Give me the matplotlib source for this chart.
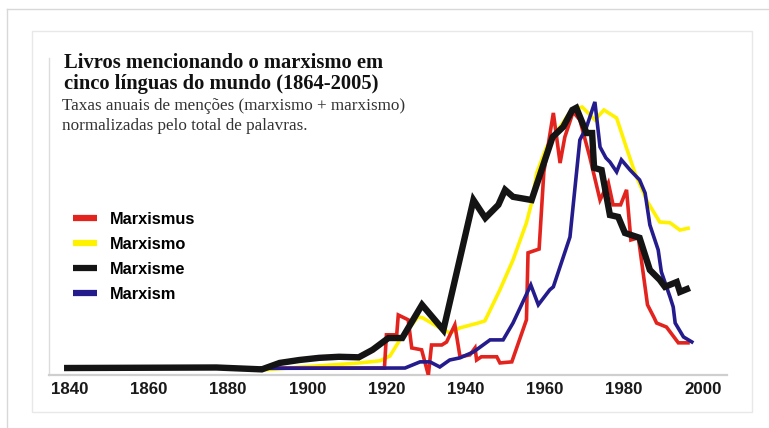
import matplotlib
matplotlib.use("Agg")
import matplotlib.pyplot as plt
from matplotlib.lines import Line2D
from matplotlib.patches import Rectangle

# ---- data (index; 100 = highest peak) ----
series_names = ["Marxismus", "Marxismo", "Marxisme", "Marxism"]

marxismus_years = [1888, 1919.5, 1920, 1922.6, 1923, 1925.5, 1926.4, 1928.9, 1930.6, 1931.4,
                   1934, 1935.2, 1937.3, 1938.6, 1941.1, 1942.4, 1942.8, 1944, 1947.9, 1948.7,
                   1951.7, 1955.4, 1955.8, 1958.6, 1959.8, 1962.2, 1963.9, 1965.1, 1967.2, 1968.9,
                   1971.4, 1974, 1976.1, 1977.3, 1979.2, 1980.7, 1981.8, 1983.7, 1986, 1987.7,
                   1988.3, 1990.8, 1993.8, 1996.7]
marxismus_vals = [0.7, 0.7, 13.1, 13.1, 20.5, 18.7, 8.2, 7.5, -1.9, 9.3,
                  9.3, 10.4, 16.8, 4.9, 5.6, 8.2, 3.7, 4.9, 4.9, 2.6,
                  3.0, 18.7, 43.7, 45.1, 73.9, 95.9, 77.2, 86.9, 96.3, 93.3,
                  79.5, 63.4, 69.8, 61.6, 61.6, 67.2, 48.5, 49.3, 24.3, 19.4,
                  17.5, 16.0, 10.1, 10.1]

marxismo_years = [1889, 1899.8, 1912.5, 1918.4, 1920.9, 1923.4, 1928, 1929.2, 1933.5, 1936,
                  1938.6, 1943.2, 1944.9, 1948.7, 1952, 1955.4, 1956.7, 1958, 1960.5, 1963.9,
                  1967, 1969.5, 1972.7, 1975, 1978.2, 1980.7, 1983, 1986, 1989.1, 1991.7,
                  1994.2, 1996.7]
marxismo_vals = [0.0, 1.2, 2.5, 3.4, 5.2, 11.2, 19.8, 19.4, 15.7, 13.8,
                 15.7, 17.5, 18.3, 29.9, 41.0, 54.9, 62.3, 73.5, 83.2, 90.7,
                 97.4, 98.1, 93.3, 97.0, 94.0, 82.8, 72.8, 62.7, 55.2, 54.9,
                 52.2, 53.0]

marxisme_years = [1838.5, 1877, 1888.5, 1893, 1898, 1903, 1908, 1913, 1916.5, 1920.5,
                  1924, 1929, 1934.4, 1942, 1945, 1948.3, 1950, 1952, 1956.7, 1962,
                  1964.7, 1967, 1968, 1970.6, 1972, 1972.5, 1974.4, 1976.5, 1978.6, 1980.3,
                  1984, 1986.6, 1989.1, 1990.4, 1993.4, 1994.2, 1996.7]
marxisme_vals = [0.7, 0.9, 0.2, 2.6, 3.7, 4.5, 4.9, 4.7, 7.5, 11.9,
                 11.9, 24.3, 14.9, 63.4, 56.7, 61.6, 67.2, 64.6, 63.4, 86.9,
                 90.7, 97.0, 97.8, 88.4, 88.4, 75.4, 74.6, 57.8, 57.1, 51.1,
                 49.3, 37.3, 33.6, 31.0, 32.8, 29.1, 30.6]

marxism_years = [1888, 1924.7, 1928.5, 1931, 1933.5, 1936, 1938.6, 1942, 1946.2, 1949.5,
                 1952, 1956.5, 1958.4, 1961.3, 1962.2, 1966.4, 1968.9, 1970.6, 1972.7, 1974,
                 1975.5, 1976.5, 1978.2, 1979.4, 1981.6, 1984, 1985.4, 1986.6, 1988.7, 1989.5,
                 1991.7, 1992.5, 1993, 1995.1, 1997.6]
marxism_vals = [0.6, 0.7, 3.0, 3.0, 1.1, 3.7, 4.5, 6.7, 11.2, 11.2,
                17.5, 31.7, 24.3, 29.9, 31.0, 49.6, 85.8, 90.7, 100.0, 83.2,
                79.1, 77.6, 73.9, 78.4, 74.6, 70.9, 66.0, 54.1, 44.8, 36.6,
                27.2, 23.5, 17.5, 12.3, 10.1]

tick_years = [1840, 1860, 1880, 1900, 1920, 1940, 1960, 1980, 2000]

title_lines = ["Livros mencionando o marxismo em", "cinco línguas do mundo (1864-2005)"]
subtitle_lines = ["Taxas anuais de menções (marxismo + marxismo)", "normalizadas pelo total de palavras."]

# ---- styling ----
W, H = 769, 428
colors = {"Marxismus": "#e3241e", "Marxismo": "#fff200", "Marxisme": "#141414", "Marxism": "#241c8c"}
widths = {"Marxismus": 2.6, "Marxismo": 2.6, "Marxisme": 4.6, "Marxism": 2.6}
sans_bold = ["Liberation Sans Narrow", "Liberation Sans", "DejaVu Sans"]
serif = ["Liberation Serif", "DejaVu Serif"]

fig = plt.figure(figsize=(W / 100, H / 100), dpi=100)
fig.patch.set_facecolor("white")

def fx(px):
    return px / W

def fy(py):
    return 1 - py / H

# page border and inner box
fig.add_artist(Line2D([fx(7), fx(7)], [fy(9), 0], color="#d8d8d8", lw=1))
fig.add_artist(Line2D([fx(7), 1], [fy(9), fy(9)], color="#d8d8d8", lw=1))
fig.add_artist(Rectangle((fx(32), fy(412)), fx(752) - fx(32), fy(31) - fy(412),
                         fill=False, edgecolor="#e8e8e8", lw=1))

ax = fig.add_axes([fx(49), fy(375), fx(727) - fx(49), fy(58) - fy(375)])
ax.set_facecolor("none")

data = {
    "Marxismus": (marxismus_years, marxismus_vals),
    "Marxismo": (marxismo_years, marxismo_vals),
    "Marxisme": (marxisme_years, marxisme_vals),
    "Marxism": (marxism_years, marxism_vals),
}
for name, z in [("Marxismo", 2), ("Marxismus", 3), ("Marxism", 4), ("Marxisme", 5)]:
    xs, ys = data[name]
    ax.plot(xs, ys, color=colors[name], lw=widths[name], zorder=z,
            solid_joinstyle="miter", solid_capstyle="butt")

ax.set_xlim(1834.7, 2006.1)
ax.set_ylim(-1.9, 116.4)
ax.set_xticks(tick_years)
ax.set_xticklabels([str(t) for t in tick_years])
ax.set_yticks([])
ax.tick_params(axis="x", length=0, pad=5)
for lab in ax.get_xticklabels():
    lab.set_fontfamily(sans_bold)
    lab.set_fontweight("bold")
    lab.set_fontsize(12.2)
    lab.set_color("#1a1a1a")
for s in ["top", "right"]:
    ax.spines[s].set_visible(False)
ax.spines["left"].set_color("#dcdcdc")
ax.spines["left"].set_linewidth(1)
ax.spines["bottom"].set_color("#cfcfcf")
ax.spines["bottom"].set_linewidth(1.6)

# legend
handles = [Line2D([], [], color=colors[n], lw=4.5, solid_capstyle="butt") for n in series_names]
leg = fig.legend(handles, series_names, loc="upper left",
                 bbox_to_anchor=(fx(66), fy(205)), frameon=False,
                 prop={"family": sans_bold, "weight": "bold", "size": 11.8},
                 handlelength=1.5, handletextpad=0.75, labelspacing=0.62,
                 borderaxespad=0, borderpad=0.4)

# title & subtitle
fig.text(fx(64), fy(68), title_lines[0], family=serif, weight="bold",
         fontsize=14.8, color="#111111", va="baseline", ha="left")
fig.text(fx(64), fy(89.5), title_lines[1], family=serif, weight="bold",
         fontsize=14.8, color="#111111", va="baseline", ha="left")
fig.text(fx(62), fy(110), subtitle_lines[0], family=serif,
         fontsize=12.3, color="#333333", va="baseline", ha="left")
fig.text(fx(62), fy(130), subtitle_lines[1], family=serif,
         fontsize=12.3, color="#333333", va="baseline", ha="left")

fig.savefig("out.png", dpi=100, facecolor="white")
